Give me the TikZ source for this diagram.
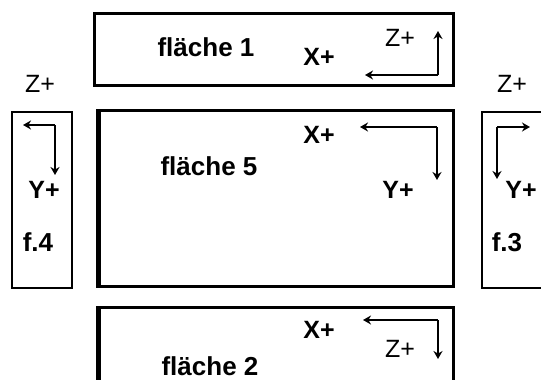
\documentclass[tikz,border=0pt]{standalone}
\usepackage{fontspec}
\setmainfont{Liberation Sans}
\usetikzlibrary{arrows.meta}
\begin{document}
\begin{tikzpicture}[x=1pt,y=-1pt,
  facebox/.style={draw=black,line width=3pt},
  sidebox/.style={draw=black,line width=2pt},
  lbl/.style={inner sep=0pt,font=\fontsize{26}{26}\selectfont\bfseries},
  axlbl/.style={inner sep=0pt,font=\fontsize{25}{25}\selectfont\bfseries},
  zlbl/.style={inner sep=0pt,font=\fontsize{25}{25}\selectfont},
  axarrow/.style={draw=black,line width=1.5pt,-{Stealth[length=8pt,width=9pt]}}]
\useasboundingbox (0,0) rectangle (541,380);
\clip (0,0) rectangle (541,380);
\fill[white] (0,0) rectangle (541,380);
% boxes
\draw[facebox] (94,13) rectangle (453,85);
\draw[facebox] (97,110) rectangle (453,286);
\draw[draw=black,line width=5pt] (98,110) -- (98,286);
\draw[facebox] (97,307) rectangle (453,395);
\draw[draw=black,line width=5pt] (98,307) -- (98,395);
\draw[sidebox] (12,112) rectangle (72,288);
\draw[sidebox] (482,112) rectangle (545,288);
% labels box 1
\node[lbl] (f1) at (206,47) {fläche 1};
\node[axlbl] (x1) at (319,57) {X+};
\node[zlbl] (z1) at (400,38) {Z+};
\coordinate (c1) at (438,75);
\coordinate (c1l) at (365,75);
\coordinate (c1u) at (438,31);
\draw[axarrow] (c1) -- (c1l);
\draw[axarrow] (c1) -- (c1u);
% box 5
\node[lbl] (f5) at (209,166) {fläche 5};
\node[axlbl] (x5) at (319,135) {X+};
\node[axlbl] (y5) at (398,190) {Y+};
\coordinate (c5) at (437,127);
\coordinate (c5l) at (360,127);
\coordinate (c5d) at (437,180);
\draw[axarrow] (c5) -- (c5l);
\draw[axarrow] (c5) -- (c5d);
% box 2
\node[lbl] (f2) at (210,366) {fläche 2};
\node[axlbl] (x2) at (319,330) {X+};
\node[zlbl] (z2) at (400,349) {Z+};
\coordinate (c2) at (438,320);
\coordinate (c2l) at (363,320);
\coordinate (c2d) at (438,359);
\draw[axarrow] (c2) -- (c2l);
\draw[axarrow] (c2) -- (c2d);
% left box f.4
\node[zlbl] (z4) at (40,84) {Z+};
\node[axlbl] (y4) at (44,190) {Y+};
\node[lbl] (f4) at (38,242) {f.4};
\coordinate (c4) at (55,125);
\coordinate (c4l) at (23,125);
\coordinate (c4d) at (55,175);
\draw[axarrow] (c4) -- (c4l);
\draw[axarrow] (c4) -- (c4d);
% right box f.3
\node[zlbl] (z3) at (512,84) {Z+};
\node[axlbl] (y3) at (521,190) {Y+};
\node[lbl] (f3) at (507,242) {f.3};
\coordinate (c3) at (497,127);
\coordinate (c3r) at (530,127);
\coordinate (c3d) at (497,179);
\draw[axarrow] (c3) -- (c3r);
\draw[axarrow] (c3) -- (c3d);
\end{tikzpicture}
\end{document}
